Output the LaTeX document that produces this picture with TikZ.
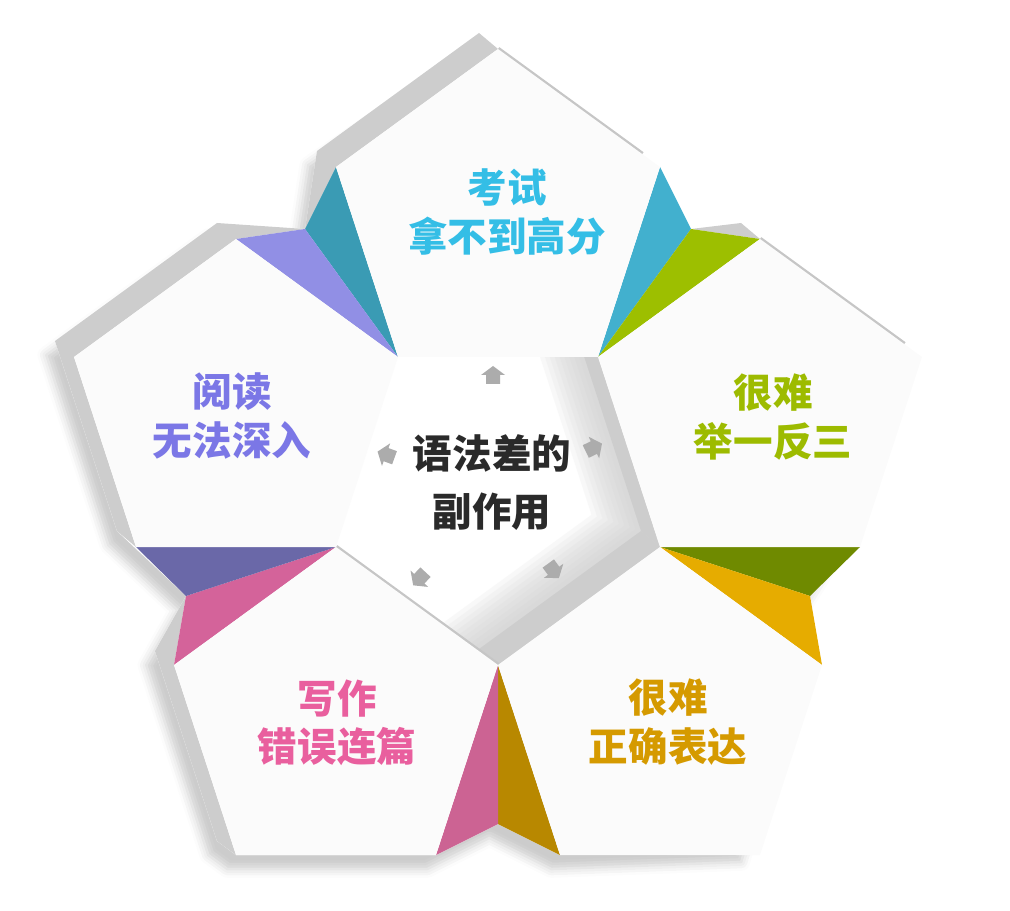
\documentclass[tikz,border=0pt]{standalone}
\usepackage{fontspec}
\setmainfont{Noto Sans CJK SC}
\usetikzlibrary{shadows.blur}
\definecolor{facewhite}{HTML}{FBFBFB}
\definecolor{sidegray}{HTML}{CDCDCD}
\definecolor{rimgray}{HTML}{C6C6C6}
\definecolor{tipgray}{HTML}{ACACAC}
\definecolor{tealdark}{HTML}{3A9BB4}
\definecolor{bluelight}{HTML}{42B0CE}
\definecolor{limegreen}{HTML}{9DBF00}
\definecolor{olivedark}{HTML}{6F8A00}
\definecolor{ambersun}{HTML}{E6AC00}
\definecolor{golddark}{HTML}{B88800}
\definecolor{pinklow}{HTML}{CC6393}
\definecolor{pinkup}{HTML}{D4639A}
\definecolor{slatedark}{HTML}{6A68A8}
\definecolor{lavender}{HTML}{918FE5}
\definecolor{txtblue}{HTML}{34BEE6}
\definecolor{txtpurple}{HTML}{7B77E6}
\definecolor{txtgreen}{HTML}{9DBB00}
\definecolor{txtpink}{HTML}{E95F9E}
\definecolor{txtgold}{HTML}{D59A00}
\definecolor{txtdark}{HTML}{2A2A2A}

\begin{document}
\begin{tikzpicture}[x=0.02cm,y=-0.02cm]
			\tikzstyle{face} = [fill=facewhite]
			\tikzstyle{side} = [fill=sidegray]
			\tikzstyle{rim} = [draw=rimgray,line width=2.6pt]
			\tikzstyle{tipmark} = [fill=tipgray]
			\tikzstyle{label} = [align=center,font=\fontsize{22.5}{27.5}\selectfont\bfseries]
			\tikzstyle{title} = [align=center,text=txtdark,font=\fontsize{22.5}{33}\selectfont\bfseries]
			\useasboundingbox (0,0) rectangle (1010,911);
			% corners of the middle pentagon
			\coordinate (c1) at (398,357);
			\coordinate (c2) at (598,357);
			\coordinate (c3) at (660,547);
			\coordinate (c4) at (498,665);
			\coordinate (c5) at (336,547);
			% outer corners
			\coordinate (t0) at (498,49);
			\coordinate (t1) at (336,167);
			\coordinate (t4) at (660,167);
			\coordinate (r0) at (760,239);
			\coordinate (r3) at (860,547);
			\coordinate (r4) at (922,357);
			\coordinate (d2) at (560,855);
			\coordinate (d3) at (760,855);
			\coordinate (d4) at (822,665);
			\coordinate (e1) at (174,665);
			\coordinate (e2) at (236,855);
			\coordinate (e3) at (436,855);
			\coordinate (l0) at (236,239);
			\coordinate (l1) at (74,357);
			\coordinate (l2) at (136,547);
			% fold points
			\coordinate (f1) at (305,229);
			\coordinate (f2) at (691,229);
			\coordinate (f3) at (810,596);
			\coordinate (f4) at (498,824);
			\coordinate (f5) at (186,596);
			% soft shadow, lower left only
			\fill[white,blur shadow={shadow xshift=-5pt,shadow yshift=-8pt,shadow blur radius=5pt,shadow opacity=20}]
				(479,40) -- (t0) -- (640,170) -- (f2) -- (741,230) -- (r0) -- (900,360) -- (845,540) -- (f3) -- (805,665) -- (750,848)
				-- (d2) -- (f4) -- (e3) -- (e2) -- (217,841) -- (155,651) -- (f5) -- (117,531) -- (55,341)
				-- (217,223) -- (f1) -- (317,151) -- cycle;
			% middle pentagon, darker along the sides on its right
			\begin{scope}
				\clip (c1) -- (c2) -- (c3) -- (c4) -- (c5) -- cycle;
				\fill[white] (c1) -- (c2) -- (c3) -- (c4) -- (c5) -- cycle;
				\foreach \k in {1,...,9}
					\fill[sidegray,fill opacity=0.13,shift={(-5.5*\k,-1.8*\k)}]
						(579,341) -- (641,531) -- (479,649) -- (498,720) -- (720,560) -- (640,320) -- cycle;
			\end{scope}
			% grey sides
			\fill[side] (f1) -- (317,151) -- (479,33) -- (t0) -- (t1) -- cycle;
			\fill[side] (f2) -- (741,223) -- (r0) -- cycle;
			\fill[side] (579,341) -- (641,531) -- (c3) -- (c2) -- cycle;
			\fill[side] (641,531) -- (479,649) -- (541,839) -- (d2) -- (c4) -- (c3) -- cycle;
			\fill[side] (f1) -- (217,223) -- (55,341) -- (117,531) -- (l2) -- (l1) -- (l0) -- cycle;
			\fill[side] (f5) -- (155,651) -- (217,841) -- (e2) -- (e1) -- cycle;
			% folded flaps
			\fill[tealdark] (c1) -- (t1) -- (f1) -- cycle;
			\fill[lavender] (c1) -- (l0) -- (f1) -- cycle;
			\fill[bluelight] (c2) -- (t4) -- (f2) -- cycle;
			\fill[limegreen] (c2) -- (r0) -- (f2) -- cycle;
			\fill[olivedark] (c3) -- (r3) -- (f3) -- cycle;
			\fill[ambersun] (c3) -- (d4) -- (f3) -- cycle;
			\fill[golddark] (c4) -- (d2) -- (f4) -- cycle;
			\fill[pinklow] (c4) -- (e3) -- (f4) -- cycle;
			\fill[pinkup] (c5) -- (e1) -- (f5) -- cycle;
			\fill[slatedark] (c5) -- (l2) -- (f5) -- cycle;
			% thin rims
			\draw[rim,shorten >=22*0.02cm] (t0) -- (t4);
			\draw[rim,shorten >=22*0.02cm] (r0) -- (r4);
			\draw[rim] (c5) -- (c4);
			% outer pentagons
			\fill[face] (t0) -- (t1) -- (c1) -- (c2) -- (t4) -- cycle;
			\fill[face] (r0) -- (c2) -- (c3) -- (r3) -- (r4) -- cycle;
			\fill[face] (c3) -- (c4) -- (d2) -- (d3) -- (d4) -- cycle;
			\fill[face] (c5) -- (e1) -- (e2) -- (e3) -- (c4) -- cycle;
			\fill[face] (l0) -- (l1) -- (l2) -- (c5) -- (c1) -- cycle;
			% little arrows in the middle
			\foreach \x/\y/\a in {493/376/90, 593/448/26, 553/570/-54, 420/578/-133, 387/455/160}
				\fill[tipmark,shift={(\x,\y)},rotate=\a] (-8,-7) -- (1,-7) -- (1,-12) -- (10,0) -- (1,12) -- (1,7) -- (-8,7) -- cycle;
			% texts
			\node[label,text=txtblue] (exam) at (507,212) {考试\\拿不到高分};
			\node[label,text=txtgreen] (transfer) at (773,417) {很难\\举一反三};
			\node[label,text=txtgold] (express) at (668,722) {很难\\正确表达};
			\node[label,text=txtpink] (writing) at (337,723) {写作\\错误连篇};
			\node[label,text=txtpurple] (reading) at (232,416) {阅读\\无法深入};
			\node[title] (grammar) at (492,483) {语法差的\\副作用};
\end{tikzpicture}
\end{document}
